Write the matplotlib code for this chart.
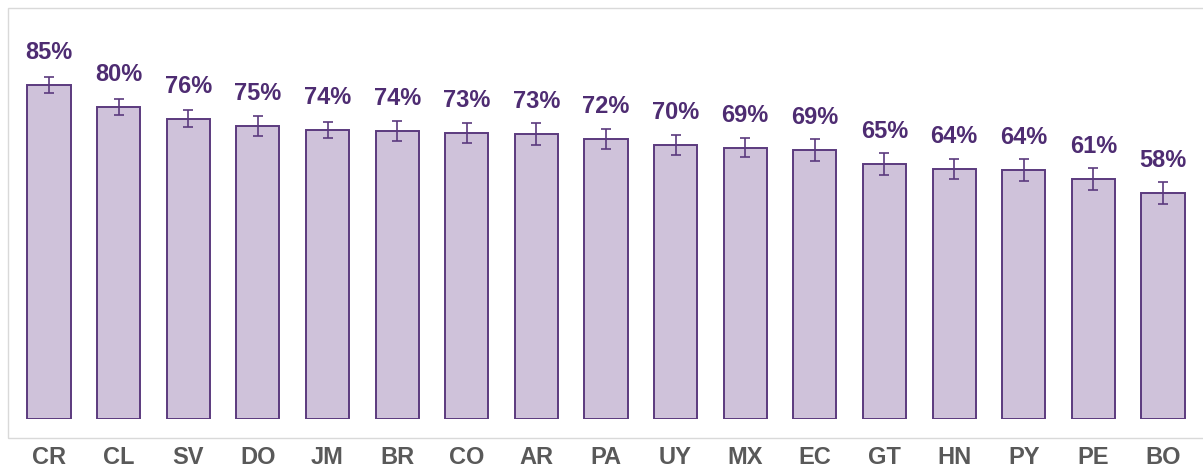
import matplotlib
matplotlib.use("Agg")
import matplotlib.pyplot as plt
from matplotlib.patches import Rectangle

countries = ["CR", "CL", "SV", "DO", "JM", "BR", "CO", "AR", "PA",
             "UY", "MX", "EC", "GT", "HN", "PY", "PE", "BO"]
values = [85.0, 79.4, 76.4, 74.6, 73.6, 73.3, 72.9, 72.5, 71.3,
          69.7, 69.1, 68.4, 64.8, 63.6, 63.4, 61.1, 57.5]
errors = [2.0, 2.1, 2.2, 2.5, 2.1, 2.6, 2.55, 2.8, 2.55,
          2.6, 2.35, 2.8, 2.8, 2.6, 2.9, 2.7, 2.8]
value_labels = ["85%", "80%", "76%", "75%", "74%", "74%", "73%", "73%", "72%",
                "70%", "69%", "69%", "65%", "64%", "64%", "61%", "58%"]

W, H = 1203, 468
fig = plt.figure(figsize=(W / 100, H / 100), dpi=100)
plt.rcParams['font.family'] = ['Liberation Sans', 'DejaVu Sans']

# outer frame
fig.patches.append(Rectangle((8 / W, 1 - 438 / H), (1210 - 8) / W, (438 - 8) / H,
                             transform=fig.transFigure, fill=False,
                             edgecolor="#D9D9D9", linewidth=1.0, zorder=0))

left = 14.2 / W
right = 1197.8 / W
bottom = 1 - 419 / H
ymax = 100
top_px = 419 - ymax * 3.929
ax = fig.add_axes([left, bottom, right - left, (419 - top_px) / H])

fill = "#CFC2DA"
edge = "#5B3A7E"
txt = "#4E2C72"

x = list(range(len(countries)))
ax.bar(x, values, width=0.62, color=fill, edgecolor=edge, linewidth=1.4, zorder=2)
ax.errorbar(x, values, yerr=errors, fmt="none", ecolor=edge, elinewidth=1.2,
            capsize=3.6, capthick=1.2, zorder=3)
for xi, v, lab in zip(x, values, value_labels):
    ax.annotate(lab, (xi, v), xytext=(0, 18.7), textcoords="offset points",
                ha="center", va="baseline", fontsize=17, fontweight="bold",
                color=txt)

ax.set_xlim(-0.5, len(countries) - 0.5)
ax.set_ylim(0, ymax)
ax.set_xticks(x)
ax.set_xticklabels(countries, fontsize=17, fontweight="bold", color="#595959")
ax.tick_params(axis="x", length=0, pad=19.5)
ax.set_yticks([])
for s in ax.spines.values():
    s.set_visible(False)
ax.patch.set_alpha(0)

fig.savefig("out.png", dpi=100)
